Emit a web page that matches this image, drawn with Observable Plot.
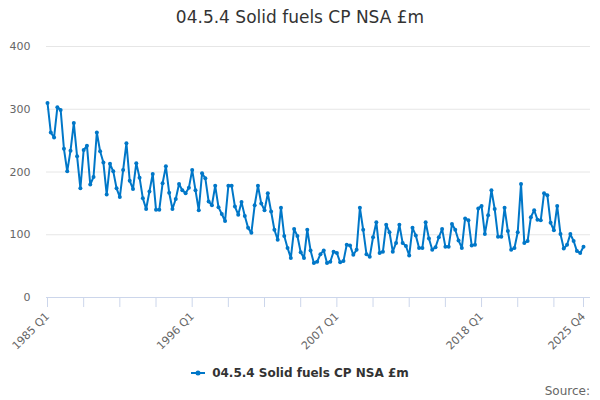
<!DOCTYPE html>
<html>
<head>
<meta charset="utf-8">
<script src="https://cdn.jsdelivr.net/npm/d3@7"></script>
<script src="https://cdn.jsdelivr.net/npm/@observablehq/plot@0.6"></script>
<style>
  body { margin: 0; background: #fff; font-family: "DejaVu Sans", sans-serif; }
  #wrap { position: relative; width: 600px; height: 400px; overflow: hidden; }
  #title { position: absolute; top: 7px; left: 0; width: 600px; text-align: center; font-size: 17px; color: #333; }
  #chart { position: absolute; top: 0; left: 0; }
  #legend { position: absolute; top: 366px; left: 0; width: 600px; text-align: center; font-size: 12px; font-weight: bold; color: #333; }
  #legend svg { vertical-align: middle; margin-right: 7px; position: relative; top: -1px; }
  #source { position: absolute; top: 384px; right: 10px; font-size: 12px; color: #666; }
</style>
</head>
<body>
<div id="wrap">
  <div id="chart"></div>
  <div id="title">04.5.4 Solid fuels CP NSA £m</div>
  <div id="legend"><svg width="14" height="10"><line x1="0" y1="5" x2="14" y2="5" stroke="#0077c8" stroke-width="2"/><circle cx="7" cy="5" r="2.5" fill="#0077c8"/></svg>04.5.4 Solid fuels CP NSA £m</div>
  <div id="source">Source:</div>
</div>
<script>
const seriesName = "04.5.4 Solid fuels CP NSA £m";
const startYear = 1985;
const endYear = 2025;
const values = [
  310, 263, 255, 303, 299, 237, 201, 234, 278, 225, 174, 235, 242, 180, 192, 263,
  233, 215, 164, 213, 201, 174, 160, 203, 246, 186, 173, 214, 191,
  158, 141, 169, 197, 140, 140, 182, 209, 167, 141, 157, 181, 171, 166, 175, 203,
  171, 139, 198, 190, 153, 147, 178, 144, 133, 122, 178, 178, 145, 132, 152,
  130, 111, 103, 147, 178, 150, 139, 166, 137, 108, 92, 143, 98, 79, 63, 109,
  98, 72, 63, 108, 75, 55, 57, 69, 75, 55, 57, 73, 71, 56,
  58, 84, 83, 68, 76, 143, 108, 69, 65, 96, 120, 71, 73, 116, 104, 73,
  87, 116, 87, 82, 67, 111, 99, 79, 79, 120, 94, 76, 80, 96, 109,
  81, 81, 117, 108, 91, 79, 126, 123, 83, 84, 142, 146, 101, 131, 171, 141,
  97, 97, 143, 106, 76,
  79, 104, 181, 87, 90, 128, 139, 124, 123, 166, 163, 119, 107, 146, 101, 78,
  84, 101, 90, 74, 71, 81
];
const quarters = [];
for (let y = startYear; y <= endYear; y++) for (let q = 1; q <= 4; q++) quarters.push(`${y} Q${q}`);
const yTicks = [0, 100, 200, 300, 400];
const xLabelQuarters = ["1985 Q1", "1996 Q1", "2007 Q1", "2018 Q1", "2025 Q4"];

const data = values.map((v, i) => ({i, quarter: quarters[i], v}));
const last = values.length - 1;
const tickIdx = d3.range(0, last, 11).concat([last]);
const labelIdx = xLabelQuarters.map(q => quarters.indexOf(q));
const color = "#0077c8";

const chart = Plot.plot({
  width: 600,
  height: 350,
  marginTop: 46,
  marginBottom: 53,
  marginLeft: 46,
  marginRight: 10,
  style: {fontFamily: "DejaVu Sans, sans-serif", background: "transparent", overflow: "visible"},
  x: {domain: [0, last], range: [47, 583], axis: null, label: null},
  y: {domain: [0, 400], axis: null, label: null},
  marks: [
    Plot.gridY(yTicks, {stroke: "#e6e6e6", strokeOpacity: 1}),
    Plot.axisY(yTicks, {tickSize: 0, tickPadding: 16, fontSize: 11, fill: "#666", anchor: "left", label: null}),
    Plot.ruleY([0], {stroke: "#ccd6eb"}),
    Plot.ruleX(tickIdx, {x: d => d, y1: 0, y2: -16, stroke: "#ccd6eb"}),
    Plot.axisX(labelIdx, {tickSize: 0, tickPadding: 17, tickRotate: -45, tickFormat: i => quarters[i], fontSize: 11, fill: "#666", anchor: "bottom", label: null}),
    Plot.line(data, {x: "i", y: "v", stroke: color, strokeWidth: 2}),
    Plot.dot(data, {x: "i", y: "v", r: 2, fill: color, stroke: "none"})
  ]
});
document.getElementById("chart").appendChild(chart);
</script>
</body>
</html>
